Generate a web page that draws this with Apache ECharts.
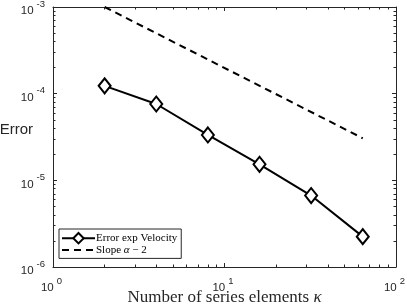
<!DOCTYPE html>
<html>
<head>
<meta charset="utf-8">
<script src="https://cdn.jsdelivr.net/npm/echarts@6/dist/echarts.min.js"></script>
<style>html,body{margin:0;padding:0;background:#fff}#c{width:407px;height:305px}</style>
</head>
<body>
<div id="c"></div>
<script>
const kappa = [2, 4, 8, 16, 32, 64];
const errVel = [1.23e-4, 7.6e-5, 3.34e-5, 1.53e-5, 6.67e-6, 2.24e-6];
const slopeK = [2, 64];
const slopeVal = [1.0e-3, 3.06e-5];
const xMajor = [1, 10, 100];
const xMinor = [2,3,4,5,6,7,8,9,20,30,40,50,60,70,80,90];
const yMajor = [1e-6, 1e-5, 1e-4, 1e-3];
const yMinor = [2e-6,3e-6,4e-6,5e-6,6e-6,7e-6,8e-6,9e-6,2e-5,3e-5,4e-5,5e-5,6e-5,7e-5,8e-5,9e-5,2e-4,3e-4,4e-4,5e-4,6e-4,7e-4,8e-4,9e-4];

const AX = '#262626';
const sans = 'Liberation Sans';
const serif = 'Liberation Serif';
function powLabel(v){ const e = Math.round(Math.log10(v)); return '{b|10}{s|' + (e<0?'-':'') + Math.abs(e) + '}'; }
const labRich = {
  b: {fontFamily: sans, fontSize: 11.5, lineHeight: 12, color: AX, padding:[6,0,0,0]},
  s: {fontFamily: sans, fontSize: 9.5, lineHeight: 10, color: AX, padding:[0,0,8,3]}
};
function xa(pos, ticks, len, showLabel, showLine, extra){
  return Object.assign({
    type:'log', logBase:10, min:1, max:100, position:pos, gridIndex:0,
    axisLine:{show:showLine, onZero:false, lineStyle:{color:AX, width:1}},
    axisTick:{show:true, inside:true, length:len, customValues:ticks, lineStyle:{color:AX, width:1}},
    axisLabel:{show:showLabel, customValues:ticks, formatter:powLabel, rich:labRich, margin:12,
      padding:[0,3,0,0], fontFamily:sans, fontSize:11.5, color:AX},
    splitLine:{show:false}, minorTick:{show:false}
  }, extra||{});
}
function ya(pos, ticks, len, showLabel, showLine, extra){
  return Object.assign({
    type:'log', logBase:10, min:1e-6, max:1e-3, position:pos, gridIndex:0,
    axisLine:{show:showLine, onZero:false, lineStyle:{color:AX, width:1}},
    axisTick:{show:true, inside:true, length:len, customValues:ticks, lineStyle:{color:AX, width:1}},
    axisLabel:{show:showLabel, customValues:ticks, formatter:powLabel, rich:labRich, margin:8,
      padding:[2,0,0,0], fontFamily:sans, fontSize:11.5, color:AX},
    splitLine:{show:false}, minorTick:{show:false}
  }, extra||{});
}

const chart = echarts.init(document.getElementById('c'), null, {renderer:'canvas'});
chart.setOption({
  animation:false,
  backgroundColor:'#fff',
  grid:{left:53, right:11, top:7, bottom:38, containLabel:false, outerBoundsMode:'none'},
  xAxis:[
    xa('bottom', xMajor, 4, true, true, {
      name:'Number of series elements {i|κ}', nameLocation:'middle', nameGap:22, nameMoveOverlap:false,
      nameTextStyle:{fontFamily:serif, fontSize:17, color:AX,
        rich:{i:{fontFamily:serif, fontStyle:'italic', fontSize:17, color:AX}}}
    }),
    xa('bottom', xMinor, 2.5, false, false),
    xa('top', xMajor, 4, false, true),
    xa('top', xMinor, 2.5, false, false)
  ],
  yAxis:[
    ya('left', yMajor, 4, true, true, {
      name:'Error', nameLocation:'middle', nameRotate:0, nameGap:20, nameMoveOverlap:false,
      nameTextStyle:{fontFamily:sans, fontSize:15, color:AX, align:'right', verticalAlign:'bottom'}
    }),
    ya('left', yMinor, 2.5, false, false),
    ya('right', yMajor, 4, false, true),
    ya('right', yMinor, 2.5, false, false)
  ],
  legend:{
    orient:'vertical', left:59, top:229,
    backgroundColor:'#fff', borderColor:AX, borderWidth:1, borderRadius:0,
    padding:[3,4,3,2], itemGap:0, itemWidth:33, itemHeight:13,
    textStyle:{fontFamily:serif, fontSize:11, color:'#000', padding:[0,0,0,-4],
      rich:{n:{fontFamily:serif, fontSize:11, color:'#000'}, i:{fontFamily:serif, fontStyle:'italic', fontSize:11, color:'#000'}}},
    formatter:function(n){ if(n.indexOf('α')>=0){ return '{n|Slope }{i|α}{n| − 2}'; } return n; },
    data:[{name:'Error exp Velocity'}, {name:'Slope α − 2', itemStyle:{opacity:0}}]
  },
  series:[
    {name:'Error exp Velocity', type:'line', xAxisIndex:0, yAxisIndex:0,
     data: kappa.map((k,i)=>[k, errVel[i]]),
     symbol:'diamond', symbolSize:[12,15], showAllSymbol:true,
     lineStyle:{color:'#000', width:2}, itemStyle:{color:'#fff', borderColor:'#000', borderWidth:2}},
    {name:'Slope α − 2', type:'line', xAxisIndex:0, yAxisIndex:0,
     data: slopeK.map((k,i)=>[k, slopeVal[i]]),
     symbol:'none', lineStyle:{color:'#000', width:2, type:[7,5]}, itemStyle:{color:'#000'}}
  ]
});
</script>
</body>
</html>
